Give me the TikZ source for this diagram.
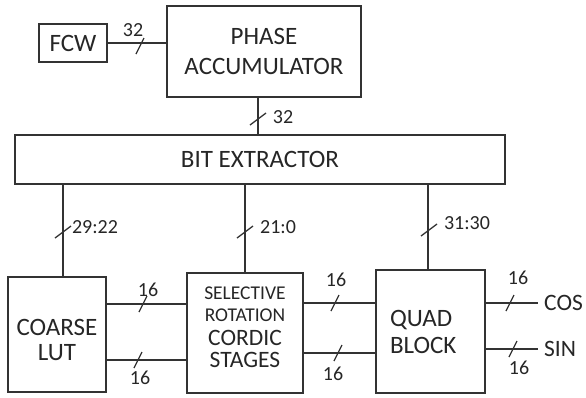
\documentclass[tikz,border=0pt]{standalone}
\usepackage{fontspec}
\setmainfont{Carlito}
\usetikzlibrary{calc}
\begin{document}
\begin{tikzpicture}[x=1pt,y=-1pt]
\tikzset{
  box/.style={draw=black!80, line width=1.3pt, inner sep=0pt, text=black!85, font=\fontsize{25}{29}\selectfont, align=center},
  boxtext/.style={text=black!85, inner sep=0pt, align=center, font=\fontsize{25}{25}\selectfont},
  wire/.style={draw=black!80, line width=1.3pt},
  bus/.style={text=black!85, font=\fontsize{20}{20}\selectfont, inner sep=0pt},
  outtext/.style={text=black!85, font=\fontsize{23.5}{24}\selectfont, inner sep=0pt},
  hs/.pic={\draw[wire] (-4,8) -- (4,-8);},
  vs/.pic={\draw[wire] (-8,6) -- (8,-6);},
}
\useasboundingbox (0,0) rectangle (586,397);

% blocks
\node[box, minimum width=68pt, minimum height=38pt] (FCW) at (73,43) {FCW};
\node[box, minimum width=194pt, minimum height=91pt, font=\fontsize{25}{30}\selectfont] (PA) at (264,51.5) {PHASE\\ACCUMULATOR};
\node[box, minimum width=490pt, minimum height=49pt] (BE) at (260,159.5) {BIT EXTRACTOR};
\node[box, minimum width=98pt, minimum height=115pt,
      label={[boxtext, yshift=-5.5pt]center:COARSE\\LUT}] (LUT) at (57,334.5) {};
\node[box, minimum width=116pt, minimum height=120pt,
      label={[boxtext, font=\fontsize{19.5}{22}\selectfont, yshift=29pt]center:SELECTIVE\\ROTATION},
      label={[boxtext, font=\fontsize{23.5}{22}\selectfont, yshift=-15.5pt]center:CORDIC\\STAGES}] (SRC) at (245,333) {};
\node[box, minimum width=109pt, minimum height=123pt, text width=81pt, align=left, font=\fontsize{25}{27}\selectfont] (QB) at (430.5,331.5) {QUAD\\BLOCK};

% connectors
\draw[wire] (FCW.east) -- (FCW.east -| PA.west);
\draw[wire] ([xshift=-6pt]PA.south) -- ([xshift=-6pt]PA.south |- BE.north);
\draw[wire] ([xshift=6pt]LUT.north |- BE.south) -- ([xshift=6pt]LUT.north);
\draw[wire] (SRC.north |- BE.south) -- (SRC.north);
\draw[wire] ([xshift=-2.5pt]QB.north |- BE.south) -- ([xshift=-2.5pt]QB.north);
\draw[wire] (LUT.east |- 0,304) -- (SRC.west |- 0,304);
\draw[wire] (LUT.east |- 0,360) -- (SRC.west |- 0,360);
\draw[wire] (SRC.east |- 0,303) -- (QB.west |- 0,303);
\draw[wire] (SRC.east |- 0,353) -- (QB.west |- 0,353);
\coordinate (COSend) at (538,303);
\coordinate (SINend) at (538,349);
\draw[wire] (QB.east |- COSend) -- (COSend);
\draw[wire] (QB.east |- SINend) -- (SINend);
\node[outtext, anchor=west] (COS) at ([xshift=6pt]COSend) {COS};
\node[outtext, anchor=west] (SIN) at ([xshift=6pt]SINend) {SIN};

% bus slashes
\pic at (140,46) {hs};
\pic at (258,119) {vs};
\pic at (63,232) {vs};
\pic at (245,232) {vs};
\pic at (429,230) {vs};
\pic at (143,304) {hs};
\pic at (138,360) {hs};
\pic at (335,303) {hs};
\pic at (338,353) {hs};
\pic at (510,303) {hs};
\pic at (513,349) {hs};

% bus labels
\node[bus] at (133,30) {32};
\node[bus] at (283,117) {32};
\node[bus] at (95,227) {29:22};
\node[bus] at (278,227) {21:0};
\node[bus] at (467,223) {31:30};
\node[bus] at (148,290) {16};
\node[bus] at (140,378) {16};
\node[bus] at (336,280) {16};
\node[bus] at (333,374) {16};
\node[bus] at (518,278) {16};
\node[bus] at (519,368) {16};
\end{tikzpicture}
\end{document}
